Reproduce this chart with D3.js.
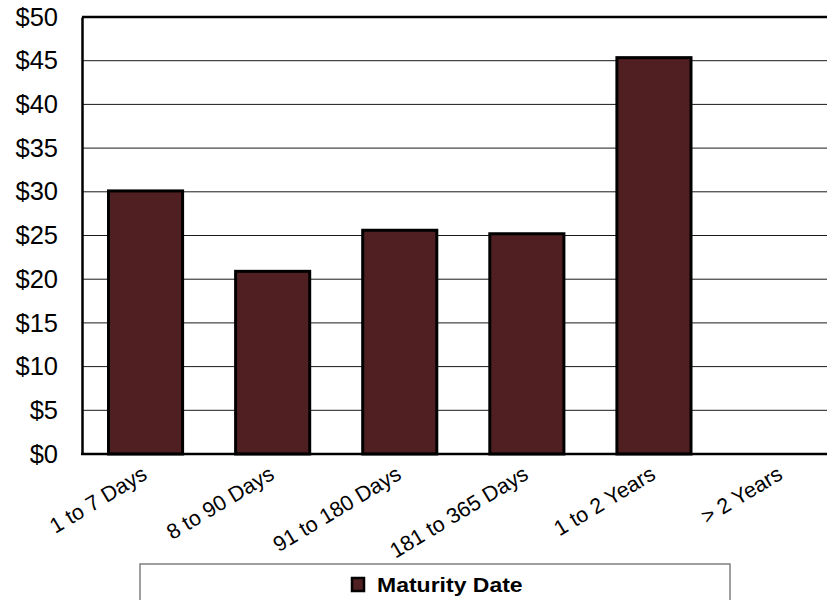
<!DOCTYPE html>
<html>
<head>
<meta charset="utf-8">
<script src="https://cdn.jsdelivr.net/npm/d3@7"></script>
<style>
  html, body { margin: 0; padding: 0; background: #fff; }
  svg { display: block; font-family: Arial, "Liberation Sans", sans-serif; }
</style>
</head>
<body>
<svg id="chart" width="827" height="600"></svg>
<script>
// Maturity buckets and amounts (in dollars)
const categories = ["1 to 7 Days", "8 to 90 Days", "91 to 180 Days", "181 to 365 Days", "1 to 2 Years", "> 2 Years"];
const values = [30.1, 20.9, 25.6, 25.2, 45.35, 0];
const yTicks = [0, 5, 10, 15, 20, 25, 30, 35, 40, 45, 50];
const seriesName = "Maturity Date";

const barColor = "#501f21";
const svg = d3.select("#chart");

const plotLeft = 82, plotTop = 17, plotBottom = 454;
const step = 127.1;
const plotRight = plotLeft + step * categories.length; // plot runs past the right edge

const x = d3.scaleBand()
  .domain(categories)
  .range([plotLeft, plotRight])
  .paddingInner(0.417)
  .paddingOuter(0.2085);

const y = d3.scaleLinear().domain([0, 50]).range([plotBottom, plotTop]);

// gridlines
svg.append("g")
  .selectAll("line")
  .data(yTicks.filter(t => t > 0 && t < 50))
  .join("line")
  .attr("x1", plotLeft).attr("x2", 827)
  .attr("y1", d => y(d)).attr("y2", d => y(d))
  .attr("stroke", "#1a1a1a").attr("stroke-width", 1);

// top frame line
svg.append("line")
  .attr("x1", plotLeft).attr("x2", 827)
  .attr("y1", y(50)).attr("y2", y(50))
  .attr("stroke", "#000").attr("stroke-width", 2.5);

// bars
svg.append("g")
  .selectAll("rect")
  .data(categories.map((c, i) => ({ c, v: values[i] })).filter(d => d.v > 0))
  .join("rect")
  .attr("x", d => x(d.c))
  .attr("y", d => y(d.v))
  .attr("width", x.bandwidth())
  .attr("height", d => y(0) - y(d.v))
  .attr("fill", barColor)
  .attr("stroke", "#000")
  .attr("stroke-width", 3);

// y axis
const yAxis = d3.axisLeft(y)
  .tickValues(yTicks)
  .tickSize(0)
  .tickPadding(24)
  .tickFormat(d => "$" + d);
const gy = svg.append("g").attr("transform", `translate(${plotLeft},0)`).call(yAxis);
gy.select(".domain").attr("stroke", "#000").attr("stroke-width", 2.5);
gy.selectAll("text")
  .attr("font-size", 25.5)
  .attr("font-family", "Arial, 'Liberation Sans', sans-serif")
  .attr("fill", "#000");

// x axis baseline
svg.append("line")
  .attr("x1", plotLeft - 1).attr("x2", 827)
  .attr("y1", plotBottom).attr("y2", plotBottom)
  .attr("stroke", "#000").attr("stroke-width", 2.5);

// category labels, rotated
svg.append("g")
  .selectAll("text")
  .data(categories)
  .join("text")
  .attr("transform", d => `translate(${x(d) + x.bandwidth() / 2 + 3},${plotBottom + 24}) rotate(-31)`)
  .attr("text-anchor", "end")
  .attr("font-size", 21.5)
  .attr("fill", "#000")
  .text(d => d);

// legend
const legend = svg.append("g");
legend.append("rect")
  .attr("x", 140).attr("y", 564)
  .attr("width", 590).attr("height", 60)
  .attr("fill", "#fff")
  .attr("stroke", "#808080").attr("stroke-width", 1.5);
legend.append("rect")
  .attr("x", 352).attr("y", 578)
  .attr("width", 12).attr("height", 13)
  .attr("fill", barColor)
  .attr("stroke", "#000").attr("stroke-width", 2.5);
legend.append("text")
  .attr("transform", "translate(377,592) scale(1,0.88)")
  .attr("font-size", 23)
  .attr("font-weight", "bold")
  .attr("fill", "#000")
  .text(seriesName);
</script>
</body>
</html>
